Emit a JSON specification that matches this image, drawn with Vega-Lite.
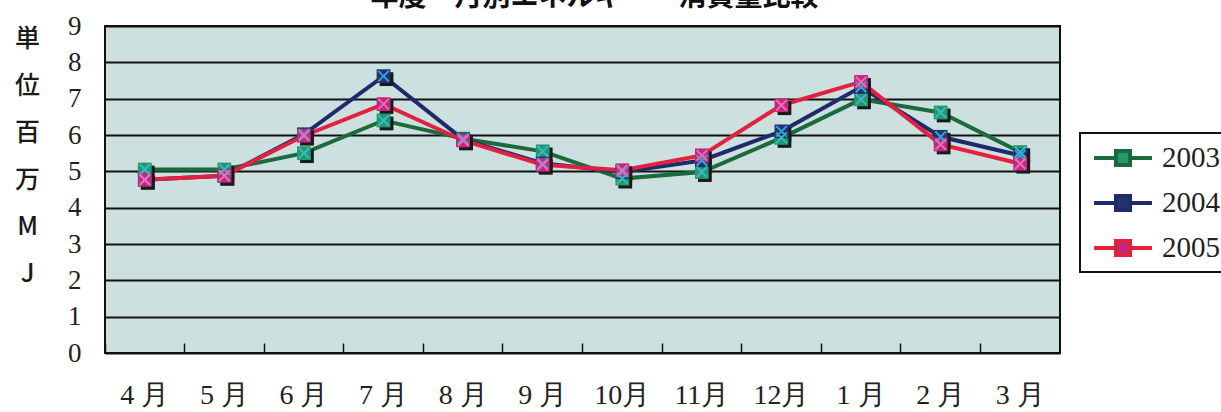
{
  "$schema": "https://vega.github.io/schema/vega-lite/v6.json",
  "autosize": {"type": "none"},
  "width": 955,
  "height": 327,
  "padding": {"left": 105, "top": 26, "right": 161, "bottom": 59},
  "background": "white",
  "title": {
    "text": "年度　月別エネルギー　消費量比較",
    "font": "Noto Sans CJK JP",
    "fontSize": 28,
    "fontWeight": "bold",
    "color": "#111",
    "anchor": "middle",
    "baseline": "alphabetic",
    "offset": 7,
    "dy": 29,
    "dx": 12
  },
  "config": {
    "view": {"fill": "#cbe0df", "stroke": "#111", "strokeWidth": 2},
    "axis": {"labelFont": "Liberation Serif", "labelColor": "#222"}
  },
  "data": {
    "values": [
      {"month": "4 月", "year": "2003", "value": 5.05},
      {"month": "5 月", "year": "2003", "value": 5.05},
      {"month": "6 月", "year": "2003", "value": 5.5},
      {"month": "7 月", "year": "2003", "value": 6.4},
      {"month": "8 月", "year": "2003", "value": 5.9},
      {"month": "9 月", "year": "2003", "value": 5.55},
      {"month": "10月", "year": "2003", "value": 4.8},
      {"month": "11月", "year": "2003", "value": 4.98},
      {"month": "12月", "year": "2003", "value": 5.92},
      {"month": "1 月", "year": "2003", "value": 6.98},
      {"month": "2 月", "year": "2003", "value": 6.62},
      {"month": "3 月", "year": "2003", "value": 5.53},
      {"month": "4 月", "year": "2004", "value": 4.77},
      {"month": "5 月", "year": "2004", "value": 4.88},
      {"month": "6 月", "year": "2004", "value": 6.02},
      {"month": "7 月", "year": "2004", "value": 7.62},
      {"month": "8 月", "year": "2004", "value": 5.88},
      {"month": "9 月", "year": "2004", "value": 5.22},
      {"month": "10月", "year": "2004", "value": 4.98},
      {"month": "11月", "year": "2004", "value": 5.3},
      {"month": "12月", "year": "2004", "value": 6.1},
      {"month": "1 月", "year": "2004", "value": 7.32},
      {"month": "2 月", "year": "2004", "value": 5.95},
      {"month": "3 月", "year": "2004", "value": 5.44},
      {"month": "4 月", "year": "2005", "value": 4.77},
      {"month": "5 月", "year": "2005", "value": 4.88},
      {"month": "6 月", "year": "2005", "value": 5.98},
      {"month": "7 月", "year": "2005", "value": 6.85},
      {"month": "8 月", "year": "2005", "value": 5.85},
      {"month": "9 月", "year": "2005", "value": 5.18},
      {"month": "10月", "year": "2005", "value": 5.03},
      {"month": "11月", "year": "2005", "value": 5.44},
      {"month": "12月", "year": "2005", "value": 6.82},
      {"month": "1 月", "year": "2005", "value": 7.46},
      {"month": "2 月", "year": "2005", "value": 5.74},
      {"month": "3 月", "year": "2005", "value": 5.21}
    ]
  },
  "encoding": {
    "x": {
      "field": "month",
      "type": "nominal",
      "sort": ["4 月", "5 月", "6 月", "7 月", "8 月", "9 月", "10月", "11月", "12月", "1 月", "2 月", "3 月"],
      "scale": {"type": "band", "paddingInner": 0, "paddingOuter": 0},
      "axis": {
        "title": null,
        "labelAngle": 0,
        "labelFontSize": 28,
        "labelFont": "Liberation Serif",
        "labelColor": "#222",
        "bandPosition": 0,
        "ticks": true,
        "tickColor": "#111",
        "tickWidth": 1.5,
        "tickSize": -10,
        "labelPadding": 52,
        "labelBaseline": "middle",
        "domain": false,
        "grid": false
      }
    },
    "y": {
      "field": "value",
      "type": "quantitative",
      "scale": {"domain": [0, 9], "nice": false},
      "axis": {
        "values": [0, 1, 2, 3, 4, 5, 6, 7, 8, 9],
        "grid": true,
        "gridColor": "#111",
        "gridWidth": 2,
        "gridOpacity": 1,
        "domain": false,
        "ticks": false,
        "labelFontSize": 27,
        "labelPadding": 24,
        "labelColor": "#222",
        "title": ["単", "位", "百", "万", "M", "J"],
        "titleAngle": 0,
        "titleFont": "Noto Sans CJK JP",
        "titleFontSize": 25,
        "titleFontWeight": 500,
        "titleColor": "#1a1a1a",
        "titleLineHeight": 47,
        "titleAlign": "center",
        "titleBaseline": "top",
        "titleX": -78,
        "titleY": 0
      }
    }
  },
  "resolve": {"scale": {"stroke": "independent"}},
  "layer": [
    {
      "mark": {"type": "line", "strokeWidth": 4},
      "encoding": {
        "stroke": {
          "field": "year",
          "type": "nominal",
          "scale": {"domain": ["2003", "2004", "2005"], "range": ["#1b6a3c", "#1f2a6b", "#e3213f"]},
          "legend": {
            "title": null,
            "orient": "none",
            "legendX": 975,
            "legendY": 107,
            "direction": "vertical",
            "padding": 8,
            "strokeColor": "#111",
            "fillColor": "white",
            "symbolType": "M-1.93,0H-0.47M0.47,0H1.93M-0.47,-0.47H0.47V0.47H-0.47Z",
            "symbolSize": 900,
            "symbolStrokeWidth": 4,
            "symbolOffset": 18,
            "labelOffset": 22,
            "labelFont": "Liberation Serif",
            "labelFontSize": 29,
            "labelColor": "#222",
            "rowPadding": 12,
            "encode": {
              "legend": {"update": {"strokeWidth": {"value": 2}}},
              "symbols": {"update": {"fill": {"scale": "fill", "field": "value"}, "fillOpacity": {"value": 1}}}
            }
          }
        }
      }
    },
    {
      "mark": {"type": "point", "shape": "square", "filled": true, "size": 190, "xOffset": 3, "yOffset": 3, "opacity": 1},
      "encoding": {"color": {"value": "#1a1a1a"}, "detail": {"field": "year"}}
    },
    {
      "mark": {"type": "point", "shape": "square", "filled": true, "size": 190, "opacity": 1},
      "encoding": {
        "fill": {
          "field": "year",
          "type": "nominal",
          "scale": {"domain": ["2003", "2004", "2005"], "range": ["#1f9a6c", "#22336e", "#c2287c"]},
          "legend": null
        }
      }
    },
    {
      "mark": {"type": "point", "shape": "M-1,-1L1,1M-1,1L1,-1", "filled": false, "size": 110, "strokeWidth": 2, "opacity": 1},
      "encoding": {
        "stroke": {
          "field": "year",
          "type": "nominal",
          "scale": {"domain": ["2003", "2004", "2005"], "range": ["#3cb6c8", "#2aa6dc", "#ea6cb4"]},
          "legend": null
        }
      }
    }
  ]
}
